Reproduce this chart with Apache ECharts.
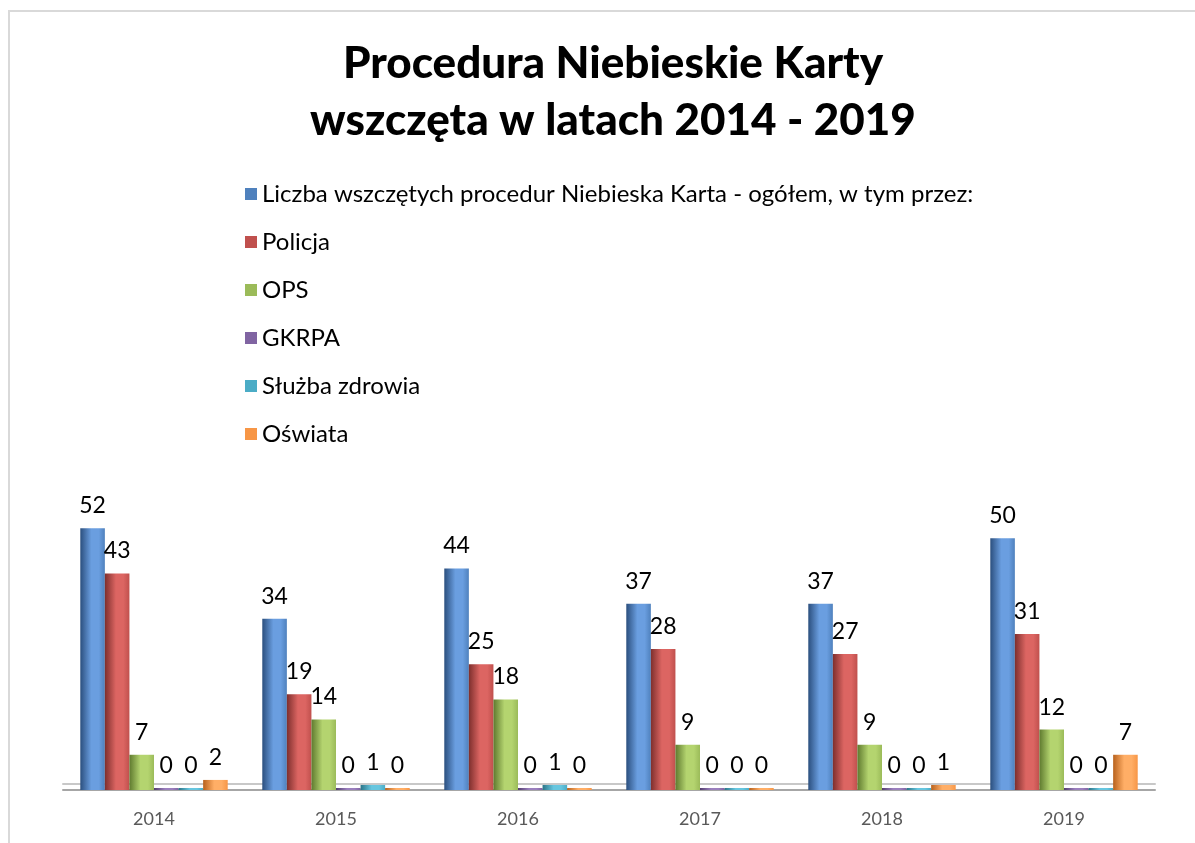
<!DOCTYPE html>
<html>
<head>
<meta charset="utf-8">
<script src="https://cdn.jsdelivr.net/npm/echarts@6/dist/echarts.min.js"></script>
<style>
  html, body { margin: 0; padding: 0; background: #fff; }
  #main { width: 1195px; height: 843px; }
  #frame {
    position: absolute; left: 8px; top: 10px; width: 1200px; height: 840px;
    border-left: 2px solid #d9d9d9; border-top: 2px solid #d9d9d9;
    pointer-events: none;
  }
</style>
</head>
<body>
<div id="main"></div>
<div id="frame"></div>
<script>
const years = ['2014', '2015', '2016', '2017', '2018', '2019']
const seriesNames = [
  'Liczba wszczętych procedur Niebieska Karta - ogółem, w tym przez:',
  'Policja',
  'OPS',
  'GKRPA',
  'Służba zdrowia',
  'Oświata'
]
const ogolem = [52, 34, 44, 37, 37, 50]
const policja = [43, 19, 25, 28, 27, 31]
const ops = [7, 14, 18, 9, 9, 12]
const gkrpa = [0, 0, 0, 0, 0, 0]
const sluzbaZdrowia = [0, 1, 1, 0, 0, 0]
const oswiata = [2, 0, 0, 0, 1, 7]
const values = [ogolem, policja, ops, gkrpa, sluzbaZdrowia, oswiata]

// base colour + dark edge + highlight for the cylinder look
const colors = [
  ['#4F81BD', '#2b4f7e', '#6a9ee0'],
  ['#C0504D', '#7e2f2d', '#dc6562'],
  ['#9BBB59', '#5f7a2f', '#b4d46f'],
  ['#8064A2', '#533d6f', '#9a7fbd'],
  ['#4BACC6', '#2a7487', '#67c6df'],
  ['#F79646', '#b8621d', '#ffae66']
]

const gradient = (c) => new echarts.graphic.LinearGradient(0, 0, 1, 0, [
  { offset: 0, color: c[1] },
  { offset: 0.45, color: c[2] },
  { offset: 0.75, color: c[2] },
  { offset: 1, color: c[0] }
])

const myEcharts = echarts.init(document.getElementById('main'))

const option = {
  backgroundColor: '#fff',
  title: {
    text: 'Procedura Niebieskie Karty\nwszczęta w latach 2014 - 2019',
    left: 608,
    top: 30,
    textAlign: 'center',
    textStyle: {
      fontFamily: 'Lato',
      fontWeight: 900,
      fontSize: 44,
      lineHeight: 57,
      color: '#000'
    }
  },
  legend: {
    orient: 'vertical',
    left: 240,
    top: 177,
    itemWidth: 12,
    itemHeight: 12,
    itemGap: 24,
    icon: 'rect',
    textStyle: {
      fontFamily: 'Lato',
      fontSize: 24,
      lineHeight: 24,
      color: '#000',
      padding: [0, 0, 0, 0]
    },
    data: seriesNames.map((name, i) => ({ name, itemStyle: { color: colors[i][0] } }))
  },
  grid: {
    left: 63,
    right: 40,
    top: 488,
    bottom: 53,
    containLabel: false
  },
  xAxis: {
    type: 'category',
    data: years,
    axisTick: { show: false },
    axisLine: {
      lineStyle: {
        color: '#a6a6a6',
        width: 2,
        shadowColor: '#c8c8c8',
        shadowBlur: 0,
        shadowOffsetY: -6
      }
    },
    axisLabel: {
      margin: 20,
      color: '#595959',
      fontFamily: 'Lato',
      fontSize: 18
    }
  },
  yAxis: {
    type: 'value',
    min: 0,
    max: 60,
    show: false,
    splitLine: { show: false }
  },
  series: seriesNames.map((name, i) => ({
    name,
    type: 'bar',
    data: values[i],
    barGap: '0%',
    barCategoryGap: '19%',
    barMinHeight: 2,
    itemStyle: { color: gradient(colors[i]) },
    label: {
      show: true,
      position: 'top',
      distance: 11,
      color: '#000',
      fontFamily: 'Lato',
      fontSize: 23
    }
  }))
}

myEcharts.setOption(option)
</script>
</body>
</html>
